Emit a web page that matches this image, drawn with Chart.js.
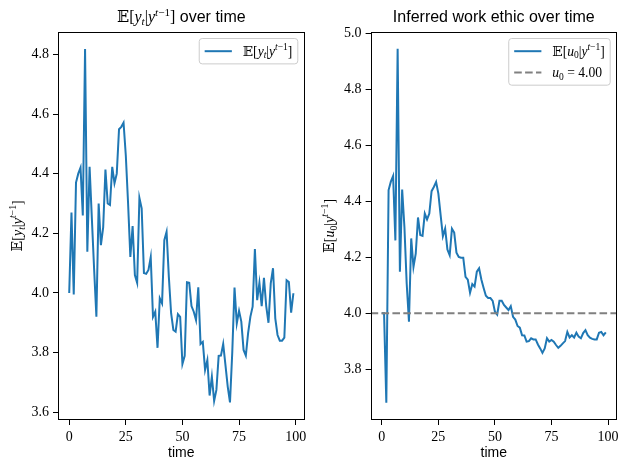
<!DOCTYPE html>
<html><head><meta charset="utf-8">
<script src="https://cdn.jsdelivr.net/npm/chart.js@4.4.0/dist/chart.umd.min.js"></script>
<style>
html,body{margin:0;padding:0;background:#fff;}
#wrap{position:relative;width:629px;height:470px;}
canvas{position:absolute;left:0;top:0;}
</style></head><body>
<div id="wrap"><canvas id="c1" width="629" height="470"></canvas><canvas id="c2" width="629" height="470"></canvas></div>
<script>
// ---------------- data ----------------
const expectedY = [4.00,4.27,3.995,4.37,4.40,4.42,4.26,4.818,4.138,4.423,
  4.25,4.08,3.92,4.30,4.16,4.22,4.414,4.30,4.295,4.423,
  4.368,4.40,4.549,4.557,4.571,4.46,4.30,4.121,4.224,4.06,
  4.034,4.319,4.284,4.067,4.064,4.077,4.12,3.92,3.937,3.816,
  3.982,3.965,4.177,4.205,4.054,3.932,3.876,3.87,3.929,3.92,
  3.762,3.789,4.036,4.034,3.956,3.937,3.909,4.019,3.829,3.836,
  3.742,3.775,3.656,3.719,3.638,3.675,3.789,3.79,3.829,3.758,
  3.686,3.633,3.80,4.018,3.898,3.94,3.904,3.809,3.79,3.865,
  3.92,3.954,4.147,3.976,4.034,3.956,4.051,3.956,3.90,4.032,
  4.083,3.915,3.859,3.84,3.84,3.85,4.043,4.037,3.934,3.999];
const inferredU0 = [4.00,4.00,3.68,4.44,4.47,4.49,4.26,4.945,4.148,4.442,
  4.308,4.106,3.969,4.267,4.165,4.213,4.342,4.279,4.276,4.356,
  4.335,4.356,4.436,4.451,4.469,4.427,4.35,4.275,4.302,4.227,
  4.207,4.302,4.288,4.216,4.201,4.198,4.198,4.13,4.12,4.073,
  4.104,4.095,4.148,4.16,4.12,4.09,4.062,4.054,4.054,4.044,
  4.005,3.995,4.044,4.044,4.029,4.02,4.011,4.025,3.987,3.977,
  3.954,3.948,3.921,3.92,3.898,3.90,3.91,3.906,3.906,3.888,
  3.874,3.858,3.874,3.91,3.898,3.904,3.898,3.886,3.876,3.883,
  3.892,3.90,3.933,3.913,3.921,3.913,3.93,3.916,3.91,3.929,
  3.939,3.921,3.912,3.908,3.906,3.906,3.93,3.933,3.921,3.931];
const trueU0 = 4.00;
const timeSteps = Array.from({length: expectedY.length}, (_, i) => i);
const xTickValues = [0, 25, 50, 75, 100];
const yTicksLeft = [3.6, 3.8, 4.0, 4.2, 4.4, 4.6, 4.8];
const yTicksRight = [3.8, 4.0, 4.2, 4.4, 4.6, 4.8, 5.0];
const xLabel = 'time';
const rightTitle = 'Inferred work ethic over time';
// rich-text labels: f = font kind (r roman, i italic, b blackboard, s sans), s = 'sub'|'sup'
const labelEY = [{t:'𝔼',f:'b'},{t:'[',f:'r'},{t:'y',f:'i'},{t:'t',f:'i',s:'sub'},{t:'|',f:'r'},{t:'y',f:'i'},{t:'t',f:'i',s:'sup'},{t:'−1',f:'r',s:'sup'},{t:']',f:'r'}];
const labelEU = [{t:'𝔼',f:'b'},{t:'[',f:'r'},{t:'u',f:'i'},{t:'0',f:'r',s:'sub'},{t:'|',f:'r'},{t:'y',f:'i'},{t:'t',f:'i',s:'sup'},{t:'−1',f:'r',s:'sup'},{t:']',f:'r'}];
const labelU0 = [{t:'u',f:'i'},{t:'0',f:'r',s:'sub'},{t:' = ',f:'r'},{t:trueU0.toFixed(2),f:'r'}];
const leftTitle = labelEY.concat([{t:' over time',f:'s'}]);
const rightTitleRich = [{t:rightTitle,f:'s'}];

// ---------------- styling ----------------
const SERIF = '"Liberation Serif","DejaVu Serif",serif';
const BB = '"DejaVu Serif","DejaVu Sans",serif';
const SANS = '"Liberation Sans","DejaVu Sans",sans-serif';
const BLUE = '#1f77b4';

function fontFor(g, size){
  const sz = g.s ? size*0.7 : size;
  const it = g.f==='i' ? 'italic ' : '';
  const fam = g.f==='s' ? SANS : (g.f==='b' ? BB : SERIF);
  return it + sz.toFixed(2) + 'px ' + fam;
}
function measureRich(ctx, segs, size){
  let w=0; ctx.save();
  for(const g of segs){ctx.font=fontFor(g,size); w+=ctx.measureText(g.t).width;}
  ctx.restore(); return w;
}
function drawRich(ctx, segs, x, y, size, align){
  ctx.save(); ctx.textBaseline='alphabetic'; ctx.textAlign='left'; ctx.fillStyle='#000';
  const w = measureRich(ctx, segs, size);
  let cx = align==='center' ? x-w/2 : (align==='right' ? x-w : x);
  for(const g of segs){
    ctx.font=fontFor(g,size);
    const dy = g.s==='sub' ? size*0.2 : (g.s==='sup' ? -size*0.4 : 0);
    ctx.fillText(g.t, cx, y+dy);
    cx += ctx.measureText(g.t).width;
  }
  ctx.restore(); return w;
}

function makeDecor(opts){
  return {
    id:'decor'+opts.id,
    afterDraw(chart){
      const ctx = chart.ctx, a = chart.chartArea;
      // full frame (spines)
      ctx.save();
      ctx.strokeStyle='#000'; ctx.lineWidth=1;
      const l=Math.round(a.left)+0.5, r=Math.round(a.right)-0.5, t=Math.round(a.top)+0.5, b=Math.round(a.bottom)-0.5;
      ctx.strokeRect(l, t, r-l, b-t);
      ctx.restore();
      // title
      drawRich(ctx, opts.title, (a.left+a.right)/2, 22, 16, 'center');
      // y label (rotated)
      ctx.save();
      ctx.translate(opts.ylabelX, (a.top+a.bottom)/2);
      ctx.rotate(-Math.PI/2);
      drawRich(ctx, opts.ylabel, 0, 5, 14, 'center');
      ctx.restore();
      // legend
      const fs = 13.6, pad = 0.4*fs, hl = 2*fs, htp = 0.8*fs, rowH = 14.5, sp = 0.5*fs;
      let tw = 0;
      for(const e of opts.legend) tw = Math.max(tw, measureRich(ctx, e.label, fs));
      const bw = pad + hl + htp + tw + pad;
      const bh = 2*pad + opts.legend.length*rowH + (opts.legend.length-1)*sp;
      const bx = a.right - 0.5*fs - bw, by = a.top + 0.5*fs;
      ctx.save();
      ctx.beginPath();
      if (ctx.roundRect) ctx.roundRect(bx, by, bw, bh, 3); else ctx.rect(bx,by,bw,bh);
      ctx.fillStyle='rgba(255,255,255,0.8)'; ctx.fill();
      ctx.strokeStyle='#cccccc'; ctx.lineWidth=1; ctx.stroke();
      ctx.restore();
      opts.legend.forEach((e,i)=>{
        const cy = by + pad + rowH/2 + i*(rowH+sp);
        ctx.save();
        ctx.strokeStyle=e.color; ctx.lineWidth=2; ctx.setLineDash(e.dash||[]);
        ctx.beginPath(); ctx.moveTo(bx+pad, cy); ctx.lineTo(bx+pad+hl, cy); ctx.stroke();
        ctx.restore();
        drawRich(ctx, e.label, bx+pad+hl+htp, cy+4.5, fs, 'left');
      });
    }
  };
}

function axisCommon(){
  return {
    ticks:{color:'#000', font:{family:SERIF, size:14}, padding:4, autoSkip:false, maxRotation:0},
    grid:{display:true, drawOnChartArea:false, drawTicks:true, tickLength:5, color:'#000', lineWidth:1},
    border:{display:false}
  };
}
function zeroPad(s){ s.paddingLeft=0; s.paddingRight=0; s.paddingTop=0; s.paddingBottom=0; }

function makeChart(canvasId, cfg){
  const xAx = axisCommon();
  Object.assign(xAx, {
    type:'linear', min:-4.95, max:103.95,
    afterBuildTicks:s=>{ s.ticks = xTickValues.map(v=>({value:v})); },
    afterFit:s=>{ s.height = 50; zeroPad(s); },
    title:{display:true, text:xLabel, color:'#000', font:{family:SANS, size:14}, padding:{top:0,bottom:8}}
  });
  xAx.ticks.callback = v => String(v);
  const yAx = axisCommon();
  Object.assign(yAx, {
    type:'linear', min:cfg.ymin, max:cfg.ymax,
    afterBuildTicks:s=>{ s.ticks = cfg.yTicks.map(v=>({value:v})); },
    afterFit:s=>{ s.width = 50; zeroPad(s); }
  });
  yAx.ticks.callback = v => Number(v).toFixed(1);
  return new Chart(document.getElementById(canvasId), {
    type:'line',
    data:{ datasets: cfg.datasets },
    options:{
      responsive:false, animation:false, devicePixelRatio:1,
      layout:{padding:cfg.padding},
      plugins:{legend:{display:false}, title:{display:false}, tooltip:{enabled:false}},
      scales:{x:xAx, y:yAx}
    },
    plugins:[makeDecor(cfg.decor)]
  });
}

makeChart('c1', {
  ymin:3.574, ymax:4.876, yTicks:yTicksLeft,
  padding:{left:8, right:324.4, top:31.7, bottom:0},
  datasets:[{data: timeSteps.map((t,i)=>({x:t, y:expectedY[i]})), borderColor:BLUE, borderWidth:2, pointRadius:0, tension:0, fill:false}],
  decor:{id:1, title:leftTitle, ylabel:labelEY, ylabelX:17,
    legend:[{label:labelEY, color:BLUE}]}
});
makeChart('c2', {
  ymin:3.618, ymax:5.006, yTicks:yTicksRight,
  padding:{left:320.6, right:12, top:31.7, bottom:0},
  datasets:[
    {data: timeSteps.map((t,i)=>({x:t, y:inferredU0[i]})), borderColor:BLUE, borderWidth:2, pointRadius:0, tension:0, fill:false, order:1},
    {data: [{x:-4.95, y:trueU0},{x:103.95, y:trueU0}], borderColor:'#808080', borderWidth:2, borderDash:[7.6,3.3], pointRadius:0, tension:0, fill:false, order:0}
  ],
  decor:{id:2, title:rightTitleRich, ylabel:labelEU, ylabelX:329,
    legend:[{label:labelEU, color:BLUE},{label:labelU0, color:'#808080', dash:[7.6,3.3]}]}
});
</script>
</body></html>
